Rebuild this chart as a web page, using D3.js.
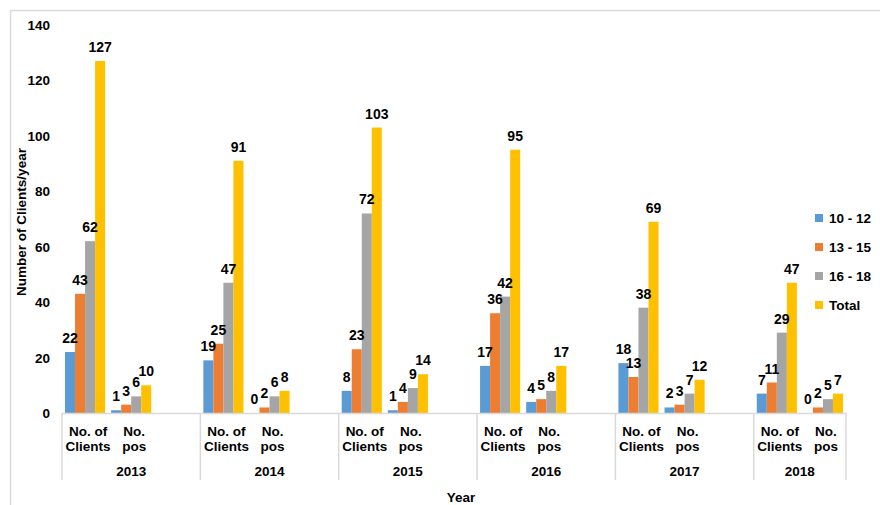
<!DOCTYPE html>
<html>
<head>
    <title>Clients per year</title>
    <script src="https://cdnjs.cloudflare.com/ajax/libs/d3/7.8.5/d3.min.js"></script>
    <style>
        body { margin: 0; background: #fff; }
        text { font-family: "Liberation Sans", Arial, sans-serif; font-weight: bold; fill: #000; }
    </style>
</head>
<body>
    <div id="vis"></div>

    <script>
        // data
        var years = ["2013", "2014", "2015", "2016", "2017", "2018"];
        var measures = ["No. of Clients", "No. pos"];
        var seriesNames = ["10 - 12", "13 - 15", "16 - 18", "Total"];
        var colors = ["#5b9bd5", "#ed7d31", "#a5a5a5", "#ffc000"];

        var clients10to12 = [22, 19, 8, 17, 18, 7];
        var clients13to15 = [43, 25, 23, 36, 13, 11];
        var clients16to18 = [62, 47, 72, 42, 38, 29];
        var clientsTotal  = [127, 91, 103, 95, 69, 47];

        var pos10to12 = [1, 0, 1, 4, 2, 0];
        var pos13to15 = [3, 2, 4, 5, 3, 2];
        var pos16to18 = [6, 6, 9, 8, 7, 5];
        var posTotal  = [10, 8, 14, 17, 12, 7];

        var yTicks = [0, 20, 40, 60, 80, 100, 120, 140];

        var clientSeries = [clients10to12, clients13to15, clients16to18, clientsTotal];
        var posSeries = [pos10to12, pos13to15, pos16to18, posTotal];

        // slots: each year gets clients, pos and an empty slot (last year has no empty one)
        var slots = [];
        years.forEach(function(yr, i) {
            slots.push(yr + "|c");
            slots.push(yr + "|p");
            if (i < years.length - 1) slots.push(yr + "|blank");
        });

        var bars = [];
        years.forEach(function(yr, i) {
            seriesNames.forEach(function(s, j) {
                bars.push({ slot: yr + "|c", series: s, value: clientSeries[j][i], color: colors[j] });
                bars.push({ slot: yr + "|p", series: s, value: posSeries[j][i], color: colors[j] });
            });
        });

        var W = 880, H = 505;
        var svg = d3.select("#vis").append("svg")
            .attr("width", W)
            .attr("height", H);

        // chart border
        svg.append("rect")
            .attr("x", 10.5).attr("y", 10.5)
            .attr("width", 900).attr("height", 600)
            .style("fill", "none")
            .style("stroke", "#d9d9d9")
            .style("stroke-width", 1.5);

        var x = d3.scaleBand().domain(slots).range([62, 846]);
        var xInner = d3.scaleBand().domain(seriesNames).range([0, x.bandwidth()]).paddingOuter(0.3);
        var y = d3.scaleLinear().domain([0, 140]).range([413, 25]);

        // y tick labels
        svg.append("g").selectAll("text")
            .data(yTicks)
            .enter().append("text")
            .attr("x", 50)
            .attr("y", function(d) { return y(d) + 5; })
            .attr("text-anchor", "end")
            .style("font-size", "13.5px")
            .text(function(d) { return d; });

        svg.append("text")
            .attr("transform", "translate(26,222) rotate(-90)")
            .attr("text-anchor", "middle")
            .style("font-size", "13.5px")
            .text("Number of Clients/year");

        // bars
        svg.append("g").selectAll("rect")
            .data(bars)
            .enter().append("rect")
            .attr("x", function(d) { return x(d.slot) + xInner(d.series); })
            .attr("y", function(d) { return y(d.value); })
            .attr("width", xInner.bandwidth())
            .attr("height", function(d) { return y(0) - y(d.value); })
            .style("fill", function(d) { return d.color; });

        // value labels
        svg.append("g").selectAll("text")
            .data(bars)
            .enter().append("text")
            .attr("x", function(d) { return x(d.slot) + xInner(d.series) + xInner.bandwidth() / 2; })
            .attr("y", function(d) { return y(d.value) - 9; })
            .attr("text-anchor", "middle")
            .style("font-size", "14px")
            .text(function(d) { return d.value; });

        // category axis
        var axisG = svg.append("g").style("stroke", "#d9d9d9").style("stroke-width", 1.5);
        axisG.append("line")
            .attr("x1", 62).attr("x2", 846)
            .attr("y1", 413.5).attr("y2", 413.5);

        var groupEdges = [x.range()[0]];
        years.forEach(function(yr, i) {
            var last = i < years.length - 1 ? yr + "|blank" : yr + "|p";
            groupEdges.push(x(last) + x.bandwidth());
        });
        axisG.selectAll("line.div")
            .data(groupEdges)
            .enter().append("line")
            .attr("class", "div")
            .attr("x1", function(d) { return d; }).attr("x2", function(d) { return d; })
            .attr("y1", 413).attr("y2", 480);

        // sub-category labels
        var subLabels = [];
        years.forEach(function(yr) {
            subLabels.push({ slot: yr + "|c", lines: ["No. of", "Clients"] });
            subLabels.push({ slot: yr + "|p", lines: ["No.", "pos"] });
        });
        var sub = svg.append("g").selectAll("text")
            .data(subLabels)
            .enter().append("text")
            .attr("text-anchor", "middle")
            .style("font-size", "13.5px");
        sub.each(function(d) {
            var t = d3.select(this);
            var cx = x(d.slot) + x.bandwidth() / 2 + 3;
            d.lines.forEach(function(line, k) {
                t.append("tspan")
                    .attr("x", cx)
                    .attr("y", 436 + k * 15)
                    .text(line);
            });
        });

        // year labels
        svg.append("g").selectAll("text")
            .data(years)
            .enter().append("text")
            .attr("x", function(d, i) { return (groupEdges[i] + groupEdges[i + 1]) / 2; })
            .attr("y", 476)
            .attr("text-anchor", "middle")
            .style("font-size", "13.5px")
            .text(function(d) { return d; });

        svg.append("text")
            .attr("x", 461)
            .attr("y", 502)
            .attr("text-anchor", "middle")
            .style("font-size", "13.5px")
            .text("Year");

        // legend
        var legend = svg.append("g").selectAll("g")
            .data(seriesNames)
            .enter().append("g")
            .attr("transform", function(d, i) { return "translate(815," + (218 + i * 29) + ")"; });
        legend.append("rect")
            .attr("x", 0).attr("y", -4)
            .attr("width", 8).attr("height", 8)
            .style("fill", function(d, i) { return colors[i]; });
        legend.append("text")
            .attr("x", 14)
            .attr("y", 5)
            .style("font-size", "13.5px")
            .text(function(d) { return d; });
    </script>
</body>
</html>
